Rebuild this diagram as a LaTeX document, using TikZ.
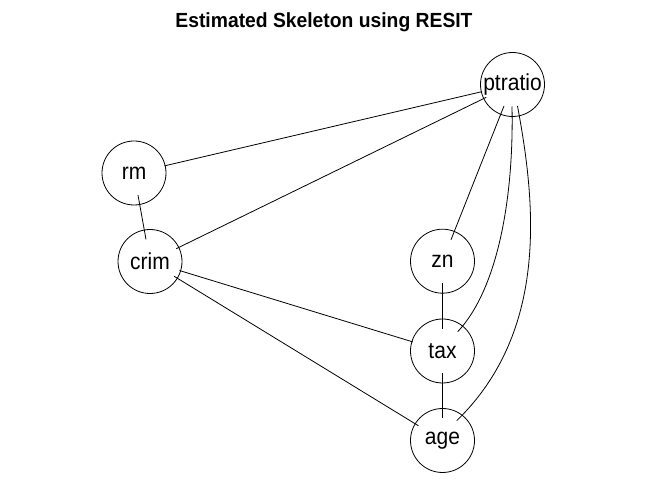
\documentclass[tikz,border=0pt]{standalone}
\usepackage{fontspec}
\usepackage{graphicx}
\setmainfont{Liberation Sans}
\usetikzlibrary{shapes.geometric}
\newcommand{\vlabel}[1]{\scalebox{1}[1.1]{#1}}
\begin{document}
\begin{tikzpicture}[x=1pt,y=-1pt,
  vert/.style={draw,circle,minimum size=64pt,inner sep=0pt,line width=0.8pt,font=\fontsize{21}{23}\selectfont},
  clip ellipse/.style={ellipse,minimum width=64pt,minimum height=44pt,inner sep=0pt},
  edge/.style={line width=0.8pt}]
\useasboundingbox (0,0) rectangle (646,494);
\node[anchor=base,font=\bfseries\fontsize{19.3}{22}\selectfont] (title) at (324,27.3) {\scalebox{1}[1.06]{Estimated Skeleton using RESIT}};
\node[vert] (ptratio) at (512.5,84.5) {\vlabel{ptratio}};
\node[vert] (rm) at (134,173) {\vlabel{rm}};
\node[vert] (crim) at (150,261.5) {\vlabel{crim}};
\node[vert] (zn) at (442.5,261.2) {\vlabel{zn}};
\node[vert] (tax) at (442.5,351) {\vlabel{tax}};
\node[vert] (age) at (442.5,440.5) {\vlabel{age}};
\foreach \n in {ptratio,rm,crim,zn,tax,age}
  \node[clip ellipse] (\n E) at (\n.center) {};
\coordinate (ptS1) at (512,106.5);
\coordinate (ptS2) at (517.5,106);
\coordinate (taxN) at (457.7,331.7);
\coordinate (ageN) at (456.7,420.7);
\draw[edge] (ptratioE) -- (rmE);
\draw[edge] (ptratioE) -- (crimE);
\draw[edge] (ptratioE) -- (znE);
\draw[edge] (ptS1) .. controls (514,200) and (497,290) .. (taxN);
\draw[edge] (ptS2) .. controls (535,200) and (550,330) .. (ageN);
\draw[edge] (rmE) -- (crimE);
\draw[edge] (crimE) -- (taxE);
\draw[edge] (crimE) -- (ageE);
\draw[edge] (znE) -- (taxE);
\draw[edge] (taxE) -- (ageE);
\end{tikzpicture}
\end{document}
